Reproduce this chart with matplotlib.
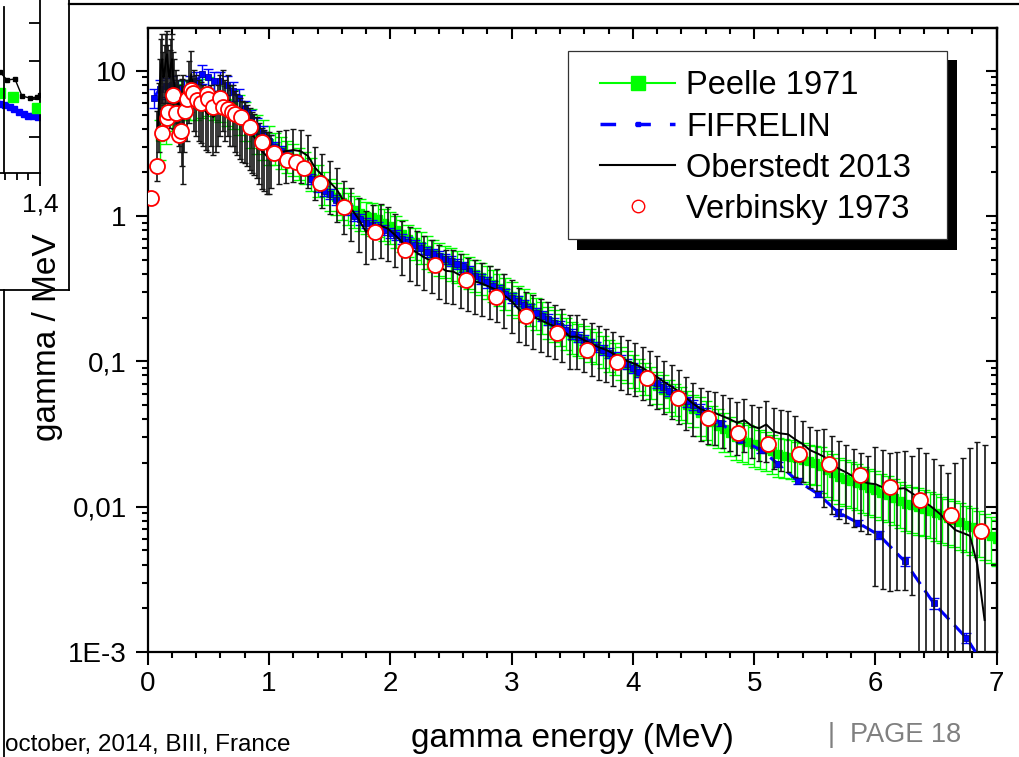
import numpy as np
import matplotlib
matplotlib.use('Agg')
import matplotlib.pyplot as plt
from matplotlib.lines import Line2D
from matplotlib.patches import Rectangle
from matplotlib.ticker import FixedLocator, FixedFormatter, NullFormatter, LogLocator, MultipleLocator

plt.rcParams['font.family'] = ['Liberation Sans', 'DejaVu Sans']

# ---------------- data ----------------
peelle_E = [0.10, 0.15, 0.20, 0.25, 0.30, 0.35, 0.40, 0.45, 0.50, 0.55,
            0.60, 0.65, 0.70, 0.75, 0.80, 0.85, 0.90, 0.95, 1.00, 1.05,
            1.10, 1.15, 1.20, 1.25, 1.30, 1.35, 1.40, 1.45, 1.50, 1.55,
            1.60, 1.65, 1.70, 1.75, 1.80, 1.85, 1.90, 1.95, 2.00, 2.05,
            2.10, 2.15, 2.20, 2.25, 2.30, 2.35, 2.40, 2.45, 2.50, 2.55,
            2.60, 2.65, 2.70, 2.75, 2.80, 2.85, 2.90, 2.95, 3.00, 3.05,
            3.10, 3.15, 3.20, 3.25, 3.30, 3.35, 3.40, 3.45, 3.50, 3.55,
            3.60, 3.65, 3.70, 3.75, 3.80, 3.85, 3.90, 3.95, 4.00, 4.05,
            4.10, 4.15, 4.20, 4.25, 4.30, 4.35, 4.40, 4.45, 4.50, 4.55,
            4.60, 4.65, 4.70, 4.75, 4.80, 4.85, 4.90, 4.95, 5.00, 5.05,
            5.10, 5.15, 5.20, 5.25, 5.30, 5.35, 5.40, 5.45, 5.50, 5.55,
            5.60, 5.65, 5.70, 5.75, 5.80, 5.85, 5.90, 5.95, 6.00, 6.05,
            6.10, 6.15, 6.20, 6.25, 6.30, 6.35, 6.40, 6.45, 6.50, 6.55,
            6.60, 6.65, 6.70, 6.75, 6.80, 6.85, 6.90, 6.95, 7.00]
peelle_y = [3.5, 4.5, 5.5, 6.2, 6.5, 6.6, 6.5, 6.8, 7.0, 6.6,
            6.3, 6.0, 5.7, 5.2, 4.7, 4.2, 3.8, 3.5, 3.2, 3.0,
            2.8, 2.65, 2.5, 2.35, 2.2, 2.0, 1.8, 1.6, 1.45, 1.35,
            1.25, 1.15, 1.1, 1.05, 1.0, 0.98, 0.95, 0.9, 0.85, 0.8,
            0.75, 0.7, 0.66, 0.62, 0.58, 0.55, 0.52, 0.5, 0.48, 0.46,
            0.44, 0.42, 0.40, 0.38, 0.36, 0.34, 0.32, 0.30, 0.28, 0.265,
            0.25, 0.235, 0.22, 0.205, 0.19, 0.18, 0.17, 0.16, 0.15, 0.145,
            0.14, 0.133, 0.127, 0.12, 0.113, 0.107, 0.1, 0.094, 0.088, 0.083,
            0.078, 0.073, 0.068, 0.064, 0.06, 0.056, 0.053, 0.05, 0.047, 0.044,
            0.041, 0.038, 0.036, 0.034, 0.032, 0.030, 0.029, 0.028, 0.027, 0.026,
            0.025, 0.024, 0.023, 0.0225, 0.022, 0.0215, 0.021, 0.0205, 0.02, 0.019,
            0.018, 0.017, 0.016, 0.0155, 0.015, 0.0145, 0.014, 0.0135, 0.013, 0.0125,
            0.012, 0.0115, 0.011, 0.0105, 0.0102, 0.0099, 0.0096, 0.0093, 0.009, 0.0087,
            0.0084, 0.0081, 0.0078, 0.0075, 0.0072, 0.0069, 0.0066, 0.0063, 0.006]
peelle_relerr = [0.30, 0.30, 0.30, 0.30, 0.30, 0.30, 0.30, 0.30, 0.30, 0.30,
                 0.30, 0.30, 0.30, 0.30, 0.30, 0.30, 0.30, 0.30, 0.30, 0.25,
                 0.25, 0.25, 0.25, 0.25, 0.25, 0.25, 0.25, 0.25, 0.25, 0.25,
                 0.25, 0.25, 0.25, 0.25, 0.25, 0.25, 0.25, 0.25, 0.25, 0.25,
                 0.25, 0.25, 0.25, 0.25, 0.25, 0.25, 0.25, 0.25, 0.25, 0.25,
                 0.25, 0.25, 0.25, 0.25, 0.25, 0.25, 0.25, 0.25, 0.25, 0.25,
                 0.25, 0.25, 0.25, 0.25, 0.25, 0.25, 0.25, 0.25, 0.25, 0.25,
                 0.25, 0.25, 0.25, 0.25, 0.25, 0.25, 0.25, 0.25, 0.25, 0.25,
                 0.25, 0.25, 0.25, 0.25, 0.25, 0.25, 0.25, 0.25, 0.25, 0.30,
                 0.30, 0.30, 0.30, 0.30, 0.30, 0.30, 0.30, 0.30, 0.30, 0.30,
                 0.30, 0.30, 0.30, 0.30, 0.30, 0.30, 0.30, 0.30, 0.30, 0.35,
                 0.35, 0.35, 0.35, 0.35, 0.35, 0.35, 0.35, 0.35, 0.35, 0.35,
                 0.35, 0.35, 0.35, 0.35, 0.35, 0.35, 0.35, 0.35, 0.35, 0.35,
                 0.35, 0.35, 0.35, 0.35, 0.35, 0.35, 0.35, 0.35, 0.35]

fif_E = [0.05, 0.10, 0.15, 0.20, 0.25, 0.30, 0.35, 0.40, 0.45, 0.50,
         0.55, 0.60, 0.65, 0.70, 0.75, 0.80, 0.85, 0.90, 0.95, 1.00,
         1.05, 1.10, 1.15, 1.20, 1.25, 1.30, 1.35, 1.40, 1.45, 1.50,
         1.55, 1.60, 1.65, 1.70, 1.75, 1.80, 1.85, 1.90, 1.95, 2.00,
         2.05, 2.10, 2.15, 2.20, 2.25, 2.30, 2.35, 2.40, 2.45, 2.50,
         2.55, 2.60, 2.65, 2.70, 2.75, 2.80, 2.85, 2.90, 2.95, 3.00,
         3.05, 3.10, 3.15, 3.20, 3.25, 3.30, 3.35, 3.40, 3.45, 3.50,
         3.55, 3.60, 3.65, 3.70, 3.75, 3.80, 3.85, 3.90, 3.95, 4.00,
         4.05, 4.10, 4.15, 4.20, 4.25, 4.30, 4.35, 4.40, 4.45, 4.50,
         4.55, 4.60, 4.65,
         4.73, 4.88, 5.06, 5.20, 5.36, 5.53, 5.69, 5.86, 6.03, 6.24, 6.48, 6.75, 7.00]
fif_y = [6.5, 7.5, 7.8, 8.0, 7.5, 7.5, 8.0, 8.5, 9.5, 9.0,
         8.5, 8.5, 8.0, 7.3, 6.5, 5.5, 4.8, 4.2, 3.7, 3.3,
         3.0, 2.8, 2.6, 2.45, 2.3, 2.1, 1.8, 1.6, 1.5, 1.42,
         1.3, 1.2, 1.1, 1.0, 0.95, 0.9, 0.87, 0.84, 0.80, 0.77,
         0.74, 0.70, 0.66, 0.63, 0.60, 0.57, 0.55, 0.53, 0.51, 0.49,
         0.47, 0.45, 0.42, 0.39, 0.37, 0.35, 0.33, 0.31, 0.29, 0.275,
         0.26, 0.245, 0.23, 0.215, 0.205, 0.195, 0.185, 0.175, 0.165, 0.155,
         0.147, 0.14, 0.133, 0.126, 0.12, 0.114, 0.108, 0.102, 0.096, 0.09,
         0.085, 0.08, 0.075, 0.071, 0.067, 0.063, 0.059, 0.056, 0.053, 0.05,
         0.047, 0.044, 0.041,
         0.0375, 0.029, 0.0245, 0.0196, 0.0150, 0.0122, 0.00918, 0.00771, 0.00637, 0.00422, 0.00217, 0.00125, 0.0006]
fif_relerr = [0.15, 0.15, 0.15, 0.15, 0.15, 0.15, 0.15, 0.15, 0.15, 0.15,
              0.15, 0.15, 0.15, 0.15, 0.15, 0.12, 0.12, 0.12, 0.12, 0.10,
              0.08, 0.08, 0.08, 0.08, 0.08, 0.08, 0.08, 0.08, 0.08, 0.08,
              0.08, 0.08, 0.08, 0.08, 0.08, 0.08, 0.08, 0.08, 0.08, 0.08,
              0.08, 0.08, 0.08, 0.08, 0.08, 0.08, 0.08, 0.08, 0.08, 0.08,
              0.08, 0.08, 0.08, 0.08, 0.08, 0.08, 0.08, 0.08, 0.08, 0.08,
              0.08, 0.08, 0.08, 0.08, 0.08, 0.08, 0.08, 0.08, 0.08, 0.08,
              0.08, 0.08, 0.08, 0.08, 0.08, 0.08, 0.08, 0.08, 0.08, 0.08,
              0.08, 0.08, 0.08, 0.08, 0.08, 0.08, 0.08, 0.08, 0.08, 0.08,
              0.08, 0.08, 0.08,
              0.04, 0.041, 0.04, 0.04, 0.047, 0.05, 0.054, 0.052, 0.063, 0.071, 0.092, 0.08, 0.1]

ober_E = [0.08, 0.09, 0.10, 0.11, 0.12, 0.13, 0.14, 0.15, 0.16, 0.17,
          0.18, 0.19, 0.20, 0.21, 0.22, 0.23, 0.24, 0.25, 0.26, 0.27,
          0.28, 0.29, 0.30, 0.32, 0.34, 0.36, 0.38, 0.40, 0.42, 0.44,
          0.46, 0.48, 0.50, 0.52, 0.54, 0.56, 0.58, 0.60, 0.62, 0.64,
          0.66, 0.68, 0.70, 0.72, 0.74, 0.76, 0.78, 0.80, 0.82, 0.84,
          0.86, 0.88, 0.90, 0.92, 0.94, 0.96, 0.98, 1.00,
          1.02, 1.08, 1.14, 1.20, 1.26, 1.32, 1.38, 1.44, 1.50, 1.56,
          1.62, 1.68, 1.74, 1.80, 1.86, 1.92, 1.98, 2.04, 2.10, 2.16,
          2.22, 2.28, 2.34, 2.40, 2.46, 2.52, 2.58, 2.64, 2.70, 2.76,
          2.82, 2.88, 2.94, 3.00, 3.06, 3.12, 3.18, 3.24, 3.30, 3.36,
          3.42, 3.48, 3.54, 3.60, 3.66, 3.72, 3.78, 3.84, 3.90, 3.96,
          4.02, 4.08, 4.14, 4.20, 4.26, 4.32, 4.38, 4.44, 4.50, 4.56,
          4.62, 4.68, 4.74, 4.80, 4.86, 4.92, 4.98, 5.04, 5.10, 5.16,
          5.22, 5.28, 5.34, 5.40, 5.46, 5.52, 5.58, 5.64, 5.70, 5.76,
          5.82, 5.88, 5.94, 6.00, 6.06, 6.12, 6.18, 6.24, 6.30, 6.36,
          6.42, 6.48, 6.54, 6.60, 6.66, 6.72, 6.78, 6.84, 6.90]
ober_y = [3.5, 5.5, 8.0, 11.0, 12.0, 9.0, 10.0, 12.0, 13.0, 10.0,
          9.0, 11.0, 12.0, 9.0, 8.0, 7.0, 6.5, 6.0, 5.5, 5.0,
          5.5, 5.5, 5.0, 6.0, 8.0, 9.5, 7.0, 6.5, 6.0, 5.8,
          5.5, 5.2, 5.0, 5.5, 4.8, 5.0, 5.5, 6.5, 7.0, 6.0,
          6.5, 5.5, 5.5, 5.0, 4.8, 4.5, 4.3, 4.2, 4.0, 3.8,
          3.6, 3.5, 3.3, 3.0, 2.8, 2.7, 2.6, 2.6,
          2.6, 2.75, 2.8, 2.85, 2.8, 2.6, 2.15, 1.9, 1.72, 1.52,
          1.25, 1.12, 0.95, 0.78, 0.85, 0.86, 0.82, 0.74, 0.66, 0.6,
          0.56, 0.52, 0.49, 0.45, 0.42, 0.415, 0.39, 0.37, 0.355, 0.342,
          0.325, 0.31, 0.285, 0.26, 0.228, 0.215, 0.203, 0.192, 0.182, 0.174,
          0.165, 0.148, 0.148, 0.14, 0.132, 0.125, 0.12, 0.113, 0.106, 0.1,
          0.096, 0.09, 0.084, 0.078, 0.072, 0.067, 0.062, 0.056, 0.051, 0.047,
          0.045, 0.044, 0.042, 0.04, 0.0378, 0.0394, 0.036, 0.0346, 0.0368, 0.033,
          0.0319, 0.0315, 0.029, 0.027, 0.0245, 0.0233, 0.022, 0.0198, 0.0182, 0.0172,
          0.0161, 0.015, 0.0145, 0.0143, 0.0136, 0.0131, 0.0133, 0.0134, 0.0124, 0.0115,
          0.0106, 0.0097, 0.0088, 0.0077, 0.0069, 0.0066, 0.0063, 0.0040, 0.00166]
ober_relerr = [0.5, 0.5, 0.5, 0.5, 0.5, 0.5, 0.5, 0.5, 0.45, 0.5,
               0.55, 0.5, 0.5, 0.5, 0.5, 0.45, 0.45, 0.45, 0.45, 0.45,
               0.6, 0.7, 0.45, 0.45, 0.45, 0.45, 0.45, 0.45, 0.45, 0.45,
               0.45, 0.45, 0.45, 0.45, 0.45, 0.45, 0.45, 0.45, 0.45, 0.45,
               0.45, 0.45, 0.45, 0.45, 0.45, 0.45, 0.45, 0.45, 0.45, 0.45,
               0.45, 0.45, 0.45, 0.45, 0.45, 0.45, 0.45, 0.45,
               0.4, 0.4, 0.4, 0.4, 0.4, 0.4, 0.4, 0.4, 0.4, 0.4,
               0.4, 0.4, 0.4, 0.4, 0.4, 0.4, 0.4, 0.4, 0.4, 0.4,
               0.4, 0.4, 0.4, 0.4, 0.4, 0.4, 0.4, 0.4, 0.4, 0.4,
               0.4, 0.4, 0.4, 0.4, 0.4, 0.4, 0.4, 0.4, 0.4, 0.4,
               0.4, 0.4, 0.4, 0.4, 0.4, 0.4, 0.4, 0.4, 0.4, 0.4,
               0.4, 0.4, 0.4, 0.4, 0.4, 0.4, 0.4, 0.4, 0.4, 0.4,
               0.4, 0.4, 0.4, 0.4, 0.4, 0.4, 0.4, 0.4, 0.45, 0.45,
               0.45, 0.45, 0.45, 0.45, 0.45, 0.45, 0.55, 0.55, 0.55, 0.55,
               0.55, 0.55, 0.55, 0.8, 0.8, 0.8, 0.8, 0.8, 0.8, 1.2,
               1.2, 1.2, 1.2, 1.2, 1.9, 2.3, 3.0, 6.0, 15.0]

verb_E = [0.027, 0.074, 0.12, 0.157, 0.17, 0.211, 0.231, 0.258, 0.275, 0.305,
          0.322, 0.354, 0.376, 0.409, 0.437, 0.486, 0.5, 0.536, 0.596, 0.618,
          0.664, 0.692, 0.72, 0.769, 0.843, 0.945, 1.044, 1.146, 1.22, 1.291,
          1.42, 1.621, 1.874, 2.121, 2.369, 2.622, 2.871, 3.119, 3.372, 3.62,
          3.87, 4.12, 4.37, 4.622, 4.869, 5.116, 5.369, 5.619, 5.872, 6.12,
          6.367, 6.62, 6.87]
verb_y = [1.33, 2.22, 3.71, 4.70, 5.22, 6.81, 5.09, 3.61, 3.85, 5.28,
          6.38, 7.36, 7.06, 6.29, 6.02, 6.92, 6.38, 5.60, 6.45, 5.60,
          5.42, 5.22, 5.01, 4.78, 4.12, 3.23, 2.70, 2.45, 2.34, 2.13,
          1.69, 1.15, 0.773, 0.583, 0.460, 0.361, 0.279, 0.206, 0.156, 0.120,
          0.0988, 0.0767, 0.0558, 0.0409, 0.0323, 0.0270, 0.0230, 0.0196, 0.0165, 0.0137,
          0.0111, 0.00875, 0.00683]

# partially visible inset (upper-left, cut by the slide edge)
inset_black_E = [1.186, 1.229, 1.259, 1.293, 1.323, 1.357, 1.387, 1.40]
inset_black_y = [2.908, 2.855, 2.75, 2.763, 2.539, 2.513, 2.526, 2.55]
inset_green_E = [1.229, 1.285, 1.387]
inset_green_y = [2.58, 2.526, 2.382]
inset_blue_E = [1.21, 1.23, 1.25, 1.27, 1.29, 1.31, 1.33, 1.35, 1.37, 1.39]
inset_blue_y = [2.46, 2.44, 2.42, 2.40, 2.37, 2.33, 2.30, 2.28, 2.27, 2.26]

ytick_vals = [1e-3, 1e-2, 1e-1, 1, 10]
ytick_labels = ['1E-3', '0,01', '0,1', '1', '10']
xtick_vals = [0, 1, 2, 3, 4, 5, 6, 7]

# ---------------- figure ----------------
W, H = 1019, 757
fig = plt.figure(figsize=(W / 100, H / 100), dpi=100)


def fx(px):
    return px / W


def fy(py):
    return 1 - py / H


GREEN = '#00ff00'
BLUE = '#0000ff'
RED = '#ff0000'

ax = fig.add_axes([fx(147.7), fy(652), fx(996.7) - fx(147.7), fy(28) - fy(652)])
ax.set_yscale('log')
ax.set_xlim(0, 7)
ax.set_ylim(1e-3, 19.7)

pe = np.array(peelle_E)
py_ = np.array(peelle_y)
perr = py_ * np.array(peelle_relerr)
ax.errorbar(pe, py_, yerr=perr, fmt='-s', color=GREEN, ms=6, mec=GREEN, lw=1.2,
            ecolor=GREEN, elinewidth=1.0, capsize=4, capthick=1.0, zorder=2)

fe = np.array(fif_E)
fyv = np.array(fif_y)
ferr = fyv * np.array(fif_relerr)
ax.errorbar(fe, fyv, yerr=ferr, fmt='none', ecolor=BLUE, elinewidth=1.0,
            capsize=3.5, capthick=1.0, zorder=3)
ax.plot(fe, fyv, linestyle=(0, (5, 2.5)), color=BLUE, lw=2.2, marker='s', ms=4,
        mec='#0000aa', mew=0.6, zorder=3)

oe = np.array(ober_E)
oy = np.array(ober_y)
oerr = oy * np.array(ober_relerr)
ax.errorbar(oe, oy, yerr=oerr, fmt='none', ecolor='#141414', elinewidth=1.2,
            capsize=2, capthick=1.0, zorder=4)
ax.plot(oe, oy, '-', color='black', lw=1.4, zorder=5)

ax.plot(verb_E, verb_y, 'o', ms=10.8, mfc='white', mec=RED, mew=1.3, linestyle='none',
        zorder=6)

# ticks
ax.yaxis.set_major_locator(FixedLocator(ytick_vals))
ax.yaxis.set_major_formatter(FixedFormatter(ytick_labels))
ax.yaxis.set_minor_locator(LogLocator(base=10, subs=np.arange(2, 10)))
ax.yaxis.set_minor_formatter(NullFormatter())
ax.xaxis.set_major_locator(FixedLocator(xtick_vals))
ax.xaxis.set_minor_locator(MultipleLocator(0.2))
ax.tick_params(axis='both', which='major', direction='out', length=9, width=1.5,
               labelsize=20, pad=5, color='black')
ax.tick_params(axis='both', which='minor', direction='out', length=4.5, width=1.5)
ax.tick_params(axis='y', which='major', pad=6)
for s in ax.spines.values():
    s.set_linewidth(1.6)

top = ax.secondary_xaxis('top')
top.xaxis.set_major_locator(FixedLocator(xtick_vals))
top.xaxis.set_minor_locator(MultipleLocator(0.2))
top.tick_params(which='major', direction='in', length=8, width=1.5, labeltop=False)
top.tick_params(which='minor', direction='in', length=4.5, width=1.5)
top.spines['top'].set_linewidth(1.6)

right = ax.secondary_yaxis('right')
right.yaxis.set_major_locator(FixedLocator(ytick_vals))
right.yaxis.set_minor_locator(LogLocator(base=10, subs=np.arange(2, 10)))
right.yaxis.set_minor_formatter(NullFormatter())
right.tick_params(which='major', direction='in', length=8, width=1.5, labelright=False)
right.tick_params(which='minor', direction='in', length=4.5, width=1.5)
right.spines['right'].set_linewidth(1.6)

ax.set_xlabel('gamma energy (MeV)', fontsize=24)
ax.xaxis.label.set_va('center')
ax.xaxis.set_label_coords(0.5, (652 - 738) / 624)
ax.set_ylabel('gamma / MeV', fontsize=24)
ax.yaxis.label.set_va('center')
ax.yaxis.set_label_coords((48 - 147.7) / 849, (652 - 337) / 624)

# legend with black shadow
ax.add_patch(Rectangle((fx(577), fy(250)), fx(957) - fx(577), fy(60) - fy(250),
                       transform=fig.transFigure, facecolor='black', edgecolor='none',
                       zorder=7, clip_on=False))
ax.add_patch(Rectangle((fx(568), fy(239)), fx(947) - fx(568), fy(51) - fy(239),
                       transform=fig.transFigure, facecolor='white', edgecolor='#333333',
                       lw=0.9, zorder=8, clip_on=False))
handles = [
    Line2D([], [], color=GREEN, lw=1.5, marker='s', ms=10, mec=GREEN),
    Line2D([], [], color=BLUE, lw=2.5, linestyle=(0, (4.5, 5.5)), marker='s', ms=3, mec=BLUE),
    Line2D([], [], color='black', lw=1.5),
    Line2D([], [], color=RED, marker='o', ms=9, mfc='white', mec=RED, mew=1.0, linestyle='none'),
]
labels = ['Peelle 1971', 'FIFRELIN', 'Oberstedt 2013', 'Verbinsky 1973']
leg = ax.legend(handles, labels, loc='upper left', bbox_to_anchor=(fx(600), fy(70.5)),
                bbox_transform=fig.transFigure, frameon=False, fontsize=23.5,
                borderpad=0, borderaxespad=0, handlelength=2.3, handletextpad=0.34,
                labelspacing=0.31)
leg.set_zorder(9)

# inset (partially visible)
iax = fig.add_axes([fx(-300), fy(173), 340 / W, 223 / H])
iax.set_xlim(1.4 - 340 / 234, 1.4)
iax.set_ylim(2.0 - 36 / 76, 2.0 + 187 / 76)
iax.plot(inset_blue_E, inset_blue_y, 's', color=BLUE, ms=4, zorder=2)
iax.plot(inset_green_E, inset_green_y, 's', color=GREEN, ms=7, zorder=3)
iax.plot(inset_black_E, inset_black_y, '-s', color='black', ms=3, lw=1.0, zorder=4)
iax.xaxis.set_major_locator(FixedLocator([1.4]))
iax.xaxis.set_major_formatter(FixedFormatter(['1,4']))
iax.xaxis.set_minor_locator(MultipleLocator(0.05))
iax.yaxis.set_major_locator(FixedLocator([2.0, 2.5, 3.0, 3.5]))
iax.yaxis.tick_right()
iax.yaxis.set_major_formatter(NullFormatter())
iax.tick_params(axis='x', which='major', direction='out', length=9, width=1.3,
                labelsize=19, pad=5)
iax.tick_params(axis='x', which='minor', direction='out', length=5, width=1.3)
iax.tick_params(axis='y', which='major', direction='in', length=8, width=1.3)
for s in iax.spines.values():
    s.set_linewidth(1.3)

# slide frame lines
fig.add_artist(Line2D([fx(69), fx(1019)], [fy(4), fy(4)], color='black', lw=1.6))
fig.add_artist(Line2D([fx(69), fx(69)], [fy(0), fy(290)], color='black', lw=1.3))
fig.add_artist(Line2D([fx(0), fx(69)], [fy(290), fy(290)], color='black', lw=1.3))
fig.add_artist(Line2D([fx(4), fx(4)], [fy(290), fy(757)], color='black', lw=1.3))
fig.add_artist(Line2D([fx(4), fx(4)], [fy(7), fy(173)], color='black', lw=1.3))

fig.text(fx(828), fy(735), '|  PAGE 18', fontsize=19.5, color='#808080', va='center', ha='left')
fig.text(fx(5), fy(751), 'october, 2014, BIII, France', fontsize=17.5, color='black',
         va='baseline', ha='left')

fig.savefig('out.png', dpi=100)
